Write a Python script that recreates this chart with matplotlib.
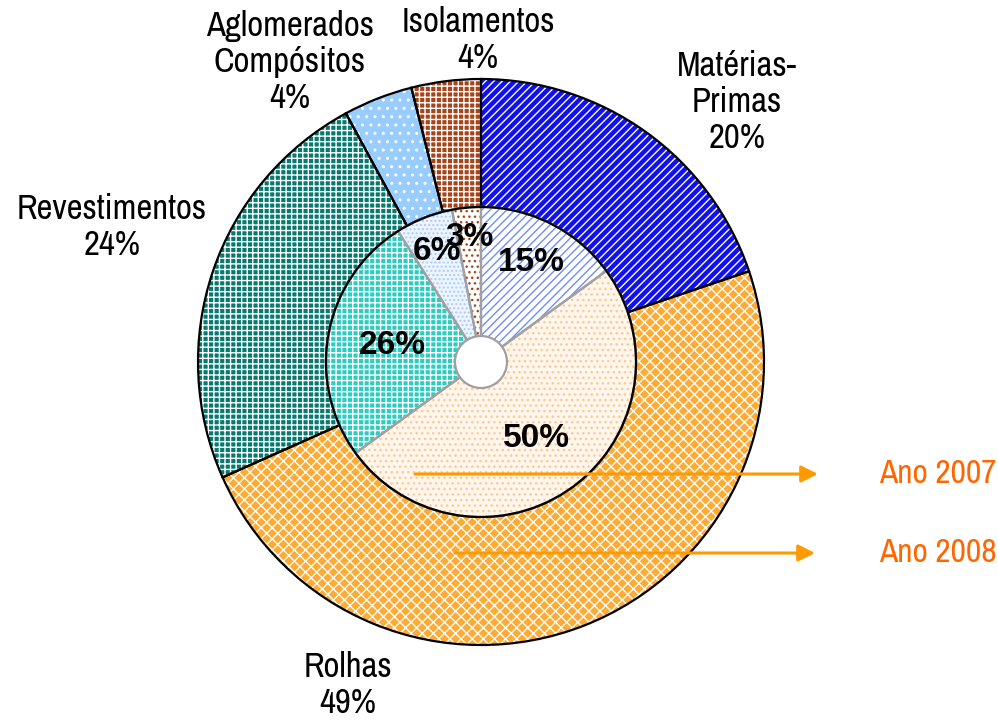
import matplotlib
matplotlib.use("Agg")
import matplotlib.pyplot as plt
import numpy as np
from matplotlib.patches import Circle

# data
cats = ['Matérias-Primas', 'Rolhas', 'Revestimentos', 'Aglomerados Compósitos', 'Isolamentos']
ano_2008 = [20, 49, 24, 4, 4]
ano_2007 = [15, 50, 26, 6, 3]
outer_labels = ['Matérias-\nPrimas\n20%', 'Rolhas\n49%', 'Revestimentos\n24%',
                'Aglomerados\nCompósitos\n4%', 'Isolamentos\n4%']
inner_labels = ['15%', '50%', '26%', '6%', '3%']

# styles
outer_face = ['#1010F0', '#FFAA33', '#067A70', '#99CCFF', '#A8441A']
outer_hatch_col = ['white', 'white', 'white', 'white', 'white']
outer_hatch = ['////', 'xxx', '+++', '..', '+++']
inner_face = ['white', '#FFF6EE', '#2ECCC0', '#EEF5FF', 'white']
inner_hatch_col = ['#6F8FF5', '#FFC990', 'white', '#A8CCFF', '#A8441A']
inner_hatch = ['////', '...', '+++', '....', '...']

narrow = ['Liberation Sans Narrow', 'Arial Narrow', 'Archivo Narrow', 'PT Sans Narrow',
          'Roboto Condensed', 'Liberation Sans', 'DejaVu Sans']
plt.rcParams['font.family'] = narrow
plt.rcParams['hatch.linewidth'] = 1.0

fig = plt.figure(figsize=(9.98, 7.22), dpi=100)
ax = fig.add_axes([0, 0, 1, 1])
ax.set_aspect('equal')
ax.axis('off')

cx, cy = 481, 360
R_out, R_mid, R_hole = 283, 155, 26

# outer ring (2008)
wedges_out, _ = ax.pie(ano_2008, center=(cx, cy), radius=R_out, startangle=90,
                       counterclock=False, frame=True,
                       wedgeprops=dict(width=R_out - R_mid, linewidth=0))
for w, fc, hc, h in zip(wedges_out, outer_face, outer_hatch_col, outer_hatch):
    w.set_facecolor(fc)
    w.set_edgecolor(hc)
    w.set_hatch(h)
ax.pie(ano_2008, center=(cx, cy), radius=R_out, startangle=90, counterclock=False,
       frame=True,
       wedgeprops=dict(width=R_out - R_mid, fill=False, edgecolor='black', linewidth=1.6))

# inner pie (2007)
wedges_in, _ = ax.pie(ano_2007, center=(cx, cy), radius=R_mid, startangle=90,
                      counterclock=False, frame=True, wedgeprops=dict(linewidth=0))
for w, fc, hc, h in zip(wedges_in, inner_face, inner_hatch_col, inner_hatch):
    w.set_facecolor(fc)
    w.set_edgecolor(hc)
    w.set_hatch(h)
ax.pie(ano_2007, center=(cx, cy), radius=R_mid, startangle=90, counterclock=False,
       frame=True,
       wedgeprops=dict(fill=False, edgecolor='#A0A0A0', linewidth=1.6))
ax.add_patch(Circle((cx, cy), R_mid, fill=False, edgecolor='black', linewidth=1.6, zorder=3))
ax.add_patch(Circle((cx, cy), R_hole, facecolor='white', edgecolor='#A0A0A0', linewidth=1.6, zorder=3))

ax.set_xlim(0, 998)
ax.set_ylim(0, 722)

# inner percentage labels
inner_dist = [0.72, 0.61, 0.58, 0.77, 0.81]
for w, lab, d in zip(wedges_in, inner_labels, inner_dist):
    ang = np.deg2rad((w.theta1 + w.theta2) / 2)
    ax.text(cx + d * R_mid * np.cos(ang), cy + d * R_mid * np.sin(ang), lab,
            ha='center', va='center', fontsize=24, fontweight='bold', zorder=5,
            family=['Liberation Sans', 'DejaVu Sans'])

# outer labels
outer_pos = [(737, 620), (348, 37), (112, 495), (290, 660), (478, 682)]
for lab, (x, y) in zip(outer_labels, outer_pos):
    ax.text(x, y, lab, ha='center', va='center', fontsize=25, linespacing=1.15)

# year arrows
for (x0, x1, y), txt in zip([(415, 818, 248), (455, 815, 169)], ['Ano 2007', 'Ano 2008']):
    ax.annotate('', xy=(x1, y), xytext=(x0, y),
                arrowprops=dict(arrowstyle='-|>', color='#FF9900', lw=2.2,
                                mutation_scale=25, shrinkA=0, shrinkB=0), zorder=6)
    ax.text(879, y, txt, ha='left', va='center', fontsize=24, color='#FF6600')

fig.savefig('out.png', dpi=100)
